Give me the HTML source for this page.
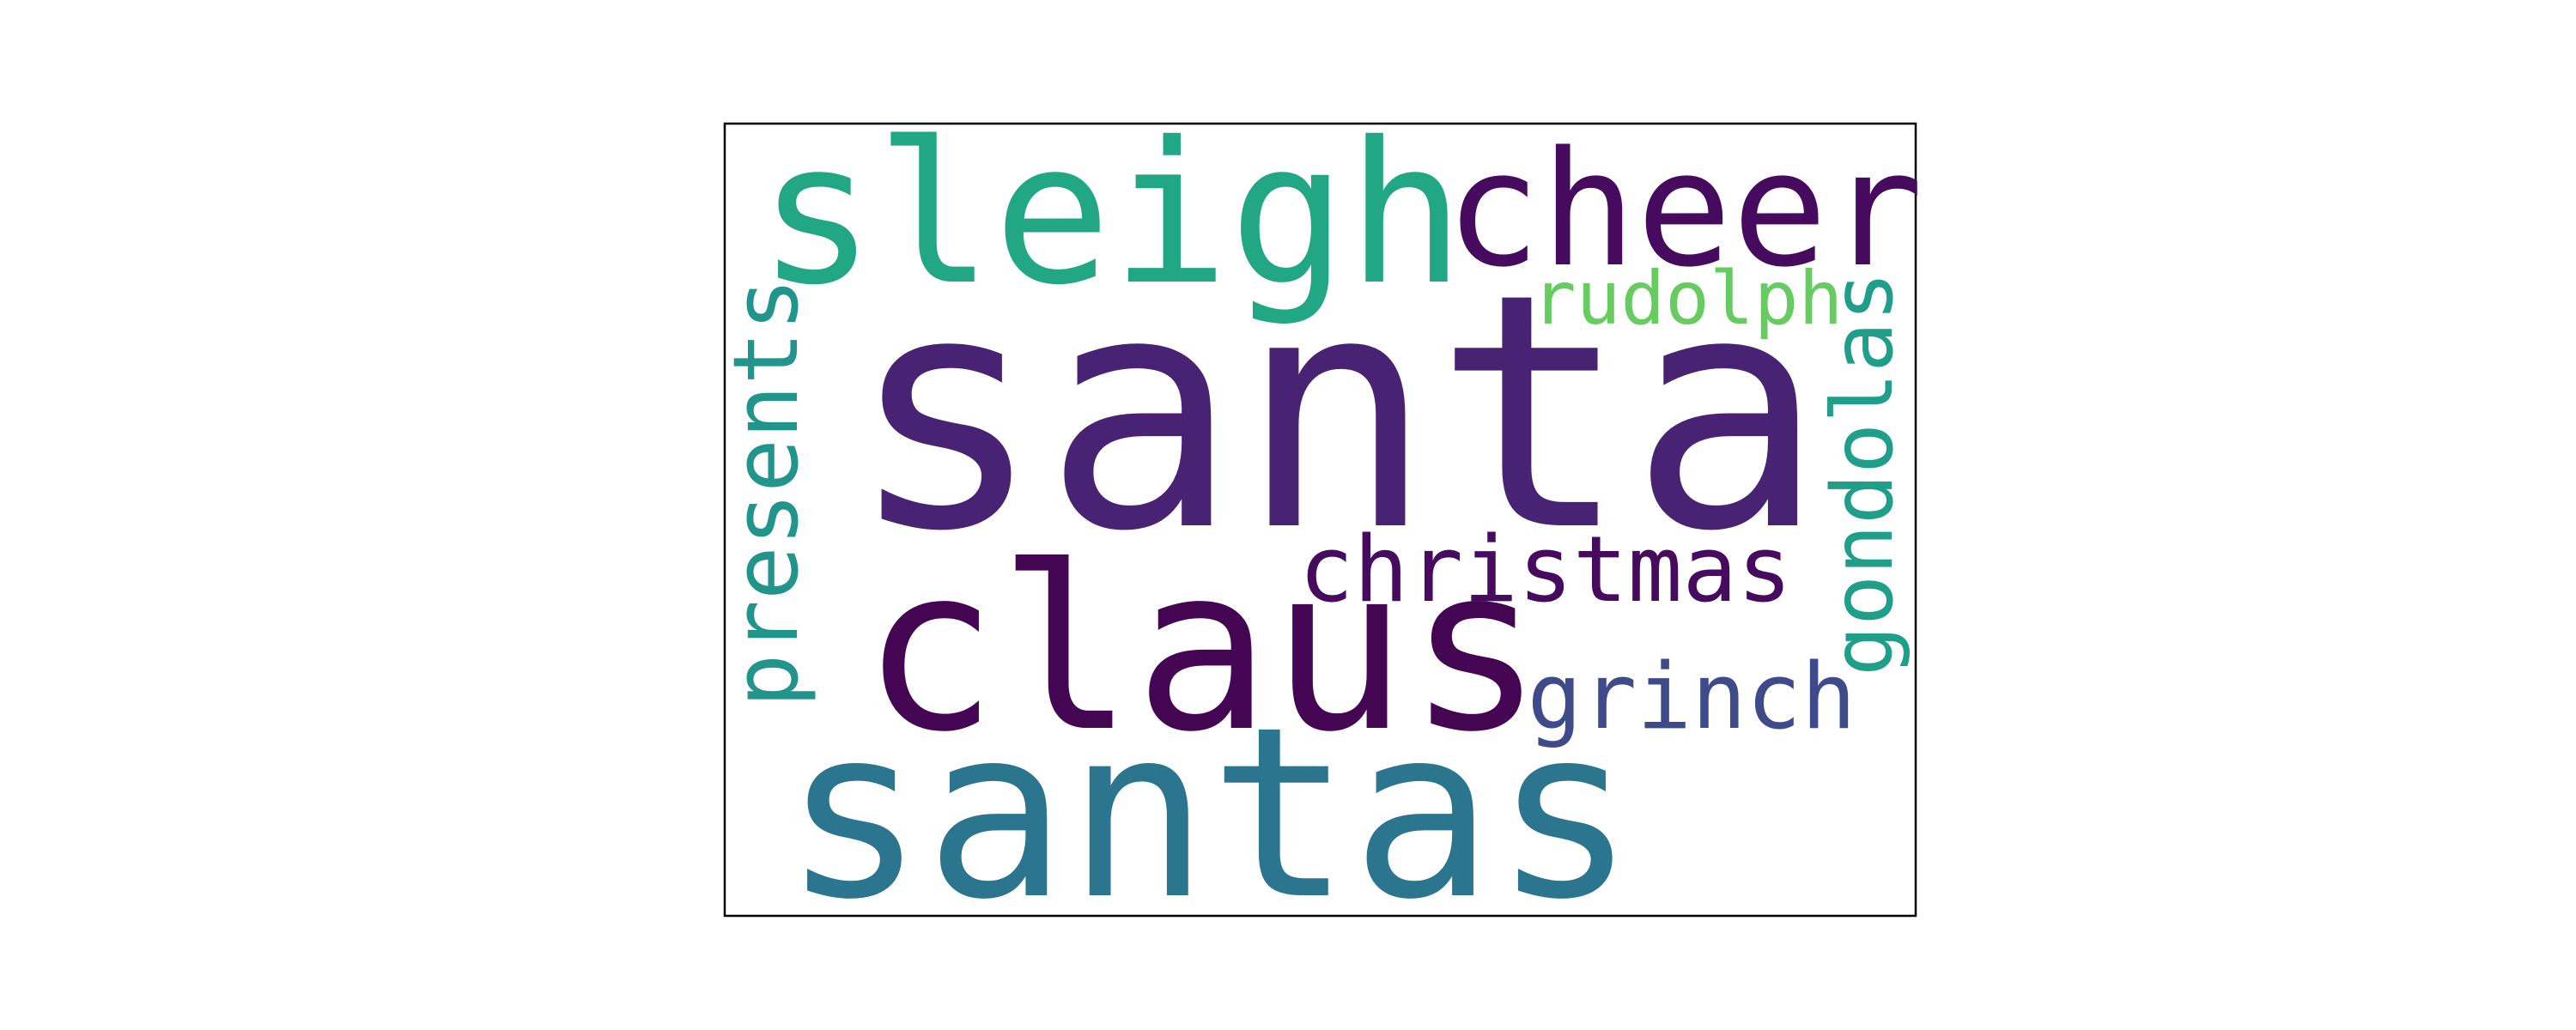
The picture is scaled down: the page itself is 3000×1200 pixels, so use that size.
<!DOCTYPE html>
<html><head><meta charset="utf-8"><style>
html,body{margin:0;padding:0;background:#fff;}
svg{display:block;}
text{font-family:"DejaVu Sans Mono","Liberation Mono",monospace;}
</style></head>
<body>
<svg id="cloud" width="3000" height="1200" viewBox="0 0 3000 1200" xmlns="http://www.w3.org/2000/svg">
<rect x="844" y="144" width="1387" height="923" fill="#fff" stroke="#000" stroke-width="2.5"/>
</svg>
<script>
const words = ["santa","claus","santas","sleigh","cheer","christmas","grinch","rudolph","presents","gondolas"];
const sizes = [378, 264, 275, 228, 185, 106, 106, 86, 104, 98];
const colors = ["#482373","#440552","#2c758e","#22a785","#460b5e","#460b5e","#3e4a89","#66cc60","#21958b","#1f9e89"];
const rotated = [false,false,false,false,false,false,false,false,true,true];
// layout anchors (ink-left x / baseline y; for rotated: baseline x / start y)
const anchorX = [1010,1019,928,896,1694,1519,1785,1789,928,2203];
const anchorY = [612,848,1043,328,308,700,848,377,818,782];

const svg = document.getElementById('cloud');
const NS = 'http://www.w3.org/2000/svg';
for (let i = 0; i < words.length; i++) {
  const t = document.createElementNS(NS, 'text');
  
  
  const f = sizes[i];
  t.setAttribute('font-size', f);
  t.setAttribute('fill', colors[i]);
  t.textContent = words[i];
  if (rotated[i]) {
    t.setAttribute('x', -0.06 * f);
    t.setAttribute('y', 0);
    t.setAttribute('transform', 'translate(' + anchorX[i] + ',' + anchorY[i] + ') rotate(-90)');
  } else {
    t.setAttribute('x', anchorX[i] - 0.06 * f);
    t.setAttribute('y', anchorY[i]);
  }
  svg.appendChild(t);
}
</script>
</body></html>
